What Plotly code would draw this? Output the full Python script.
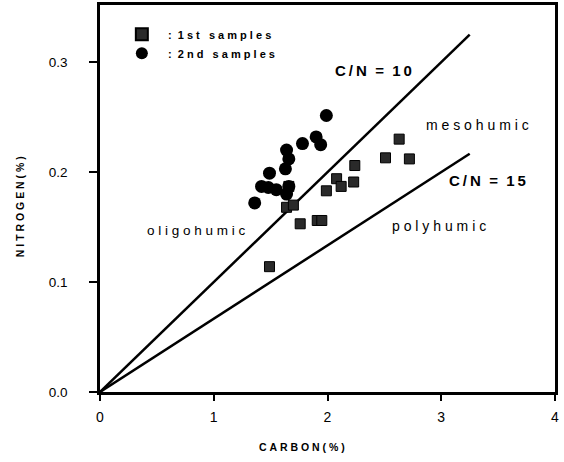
import plotly.graph_objects as go

# Data
c_first = [1.49, 1.64, 1.70, 1.66, 1.76, 1.91, 1.95, 1.99, 2.08, 2.12, 2.23, 2.24, 2.51, 2.63, 2.72]
n_first = [0.114, 0.168, 0.170, 0.187, 0.153, 0.156, 0.156, 0.183, 0.194, 0.187, 0.191, 0.206, 0.213, 0.230, 0.212]

c_second = [1.36, 1.42, 1.48, 1.55, 1.49, 1.63, 1.66, 1.64, 1.78, 1.90, 1.94, 1.99, 1.64, 1.66]
n_second = [0.172, 0.187, 0.186, 0.184, 0.199, 0.203, 0.212, 0.220, 0.226, 0.232, 0.225, 0.2515, 0.180, 0.187]

cn_ratios = [10, 15]
line_c = [0.0, 3.25]

x_ticks = [0, 1, 2, 3, 4]
y_ticks = [0.0, 0.1, 0.2, 0.3]
y_tick_labels = ["0.0", "0.1", "0.2", "0.3"]

FONT = "Arial, Liberation Sans, sans-serif"
NB = "\u00a0"
TS = "\u2009"


def spaced(word, sep=NB):
    return sep.join(list(word))


fig = go.Figure()

for r in cn_ratios:
    fig.add_trace(go.Scatter(
        x=line_c, y=[c / r for c in line_c], mode="lines",
        line=dict(color="black", width=2.5), showlegend=False, hoverinfo="skip"))

fig.add_trace(go.Scatter(
    x=c_first, y=n_first, mode="markers",
    name=NB * 2 + ":" + NB * 2 + spaced("1st") + NB * 3 + spaced("samples"),
    marker=dict(symbol="square", size=10, color="#2a2a2a",
                line=dict(color="black", width=1))))
fig.add_trace(go.Scatter(
    x=c_second, y=n_second, mode="markers",
    name=NB * 2 + ":" + NB * 2 + spaced("2nd") + NB * 3 + spaced("samples"),
    marker=dict(symbol="circle", size=13, color="black",
                line=dict(color="black", width=0))))

bold_cn = lambda v: "<b>C" + TS + "/" + TS + "N" + NB * 2 + "=" + NB * 2 + TS.join(list(v)) + "</b>"

labels = [
    dict(x=2.40, y=0.292, text=bold_cn("10"), size=15),
    dict(x=3.32, y=0.2425, text=spaced("mesohumic"), size=14),
    dict(x=3.41, y=0.1925, text=bold_cn("15"), size=15),
    dict(x=0.85, y=0.147, text=spaced("oligohumic"), size=13.5),
    dict(x=2.98, y=0.1506, text=spaced("polyhumic"), size=14),
]
for a in labels:
    fig.add_annotation(x=a["x"], y=a["y"], text=a["text"], showarrow=False,
                       font=dict(family=FONT, size=a["size"], color="black"))

# axis titles
fig.add_annotation(xref="paper", yref="paper", x=0.444, y=-0.142,
                   xanchor="center", yanchor="middle",
                   text="<b>" + spaced("CARBON(%)") + "</b>", showarrow=False,
                   font=dict(family=FONT, size=10.5, color="black"))
fig.add_annotation(xref="paper", yref="paper", x=-0.176, y=0.48, textangle=-90,
                   xanchor="center", yanchor="middle",
                   text="<b>" + spaced("NITROGEN(%)") + "</b>", showarrow=False,
                   font=dict(family=FONT, size=10.5, color="black"))

fig.update_xaxes(range=[0, 4], tickvals=x_ticks, ticks="outside", ticklen=6,
                 tickwidth=1.5, tickcolor="black", showgrid=False, zeroline=False,
                 showline=True, linecolor="black", linewidth=2.5, mirror=True,
                 automargin=False, ticklabeloverflow="allow", ticklabelstandoff=4,
                 tickfont=dict(family=FONT, size=14, color="black"))
fig.update_yaxes(range=[0, 0.352], tickvals=y_ticks, ticktext=y_tick_labels,
                 ticks="outside", ticklen=8, tickwidth=1.5, tickcolor="black",
                 showgrid=False, zeroline=False,
                 showline=True, linecolor="black", linewidth=2.5, mirror=True,
                 automargin=False, ticklabeloverflow="allow", ticklabelstandoff=19,
                 tickfont=dict(family=FONT, size=13.5, color="black"))

fig.update_layout(
    width=564, height=462,
    margin=dict(l=100, r=9, t=5, b=70, autoexpand=False),
    plot_bgcolor="white", paper_bgcolor="white",
    font=dict(family=FONT, color="black"),
    legend=dict(x=0.048, y=0.962, xanchor="left", yanchor="top",
                bgcolor="rgba(0,0,0,0)", tracegroupgap=0,
                font=dict(family=FONT, size=11, color="black", weight="bold"),
                itemsizing="constant"),
)

fig.write_html(
    "out.html",
    config={"displayModeBar": False},
    post_script="document.body.style.margin='0';document.body.style.padding='0';"
                "document.body.style.overflow='hidden';",
)
